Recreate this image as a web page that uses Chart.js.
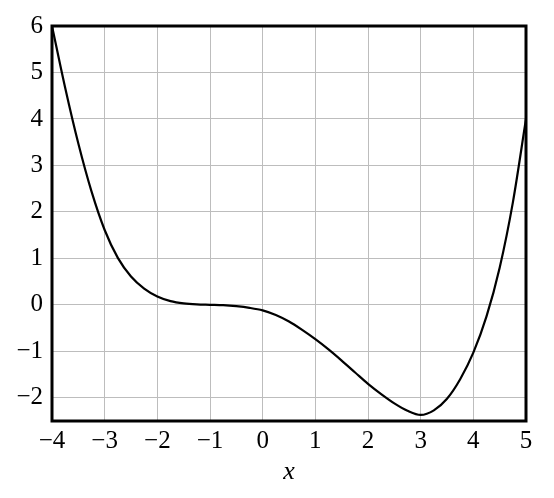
<!DOCTYPE html>
<html>
<head>
<meta charset="utf-8">
<script src="https://cdn.jsdelivr.net/npm/chart.js@4"></script>
<style>
  html, body { margin: 0; padding: 0; background: #fff; }
  #wrap { width: 554px; height: 498px; }
</style>
</head>
<body>
<div id="wrap"><canvas id="c" width="554" height="498"></canvas></div>
<script>
// values
const xValues = [-4, -3.75, -3.5, -3.25, -3, -2.75, -2.5, -2.25, -2, -1.75, -1.5, -1.25, -1,
  -0.75, -0.5, -0.25, 0, 0.25, 0.5, 0.75, 1, 1.25, 1.5, 1.75, 2, 2.25, 2.5, 2.75, 3,
  3.25, 3.5, 3.75, 4, 4.25, 4.5, 4.75, 5];
const yValues = [6, 4.67, 3.47, 2.44, 1.61, 1.01, 0.61, 0.35, 0.18, 0.08, 0.03, 0.008, 0,
  -0.008, -0.03, -0.065, -0.12, -0.22, -0.36, -0.54, -0.74, -0.96, -1.2, -1.45, -1.7,
  -1.92, -2.12, -2.28, -2.37, -2.27, -2.02, -1.6, -1.03, -0.25, 0.8, 2.2, 4.0];
const xTicks = [-4, -3, -2, -1, 0, 1, 2, 3, 4, 5];
const yTicks = [-2, -1, 0, 1, 2, 3, 4, 5, 6];

const points = xValues.map((x, i) => ({ x: x, y: yValues[i] }));
const fmt = v => (v < 0 ? "\u2212" + Math.abs(v) : String(v));
const tickFont = { family: "Liberation Serif", size: 25 };

// thick frame round the plot area
const framePlugin = {
    id: "frame",
    afterDraw(chart) {
        const a = chart.chartArea;
        const ctx = chart.ctx;
        ctx.save();
        ctx.strokeStyle = "#000";
        ctx.lineWidth = 3;
        ctx.strokeRect(a.left, a.top, a.right - a.left, a.bottom - a.top);
        ctx.restore();
    }
};

new Chart(document.getElementById("c"), {
    type: "scatter",
    data: {
        datasets: [{
            data: points,
            showLine: true,
            borderColor: "#000",
            borderWidth: 2.2,
            pointRadius: 0,
            cubicInterpolationMode: "monotone",
            fill: false
        }]
    },
    options: {
        responsive: false,
        animation: false,
        layout: { padding: { left: 0, right: 28, top: 26, bottom: 0 } },
        plugins: { legend: { display: false }, tooltip: { enabled: false } },
        scales: {
            x: {
                type: "linear",
                min: -4,
                max: 5,
                afterBuildTicks: s => { s.ticks = xTicks.map(v => ({ value: v })); },
                afterFit: s => { s.height = 77; },
                ticks: { color: "#000", font: tickFont, padding: 5, callback: v => fmt(v), maxRotation: 0 },
                grid: { color: "#bdbdbd", lineWidth: 1, drawTicks: false },
                border: { display: false },
                title: {
                    display: true,
                    text: "x",
                    color: "#000",
                    font: { family: "Liberation Serif", size: 26, style: "italic" },
                    padding: { top: 0, bottom: 10 }
                }
            },
            y: {
                type: "linear",
                min: -2.5,
                max: 6,
                afterBuildTicks: s => { s.ticks = yTicks.map(v => ({ value: v })); },
                afterFit: s => { s.width = 52; },
                ticks: { color: "#000", font: tickFont, padding: 9, callback: v => fmt(v) },
                grid: { color: "#bdbdbd", lineWidth: 1, drawTicks: false },
                border: { display: false }
            }
        }
    },
    plugins: [framePlugin]
});
</script>
</body>
</html>
